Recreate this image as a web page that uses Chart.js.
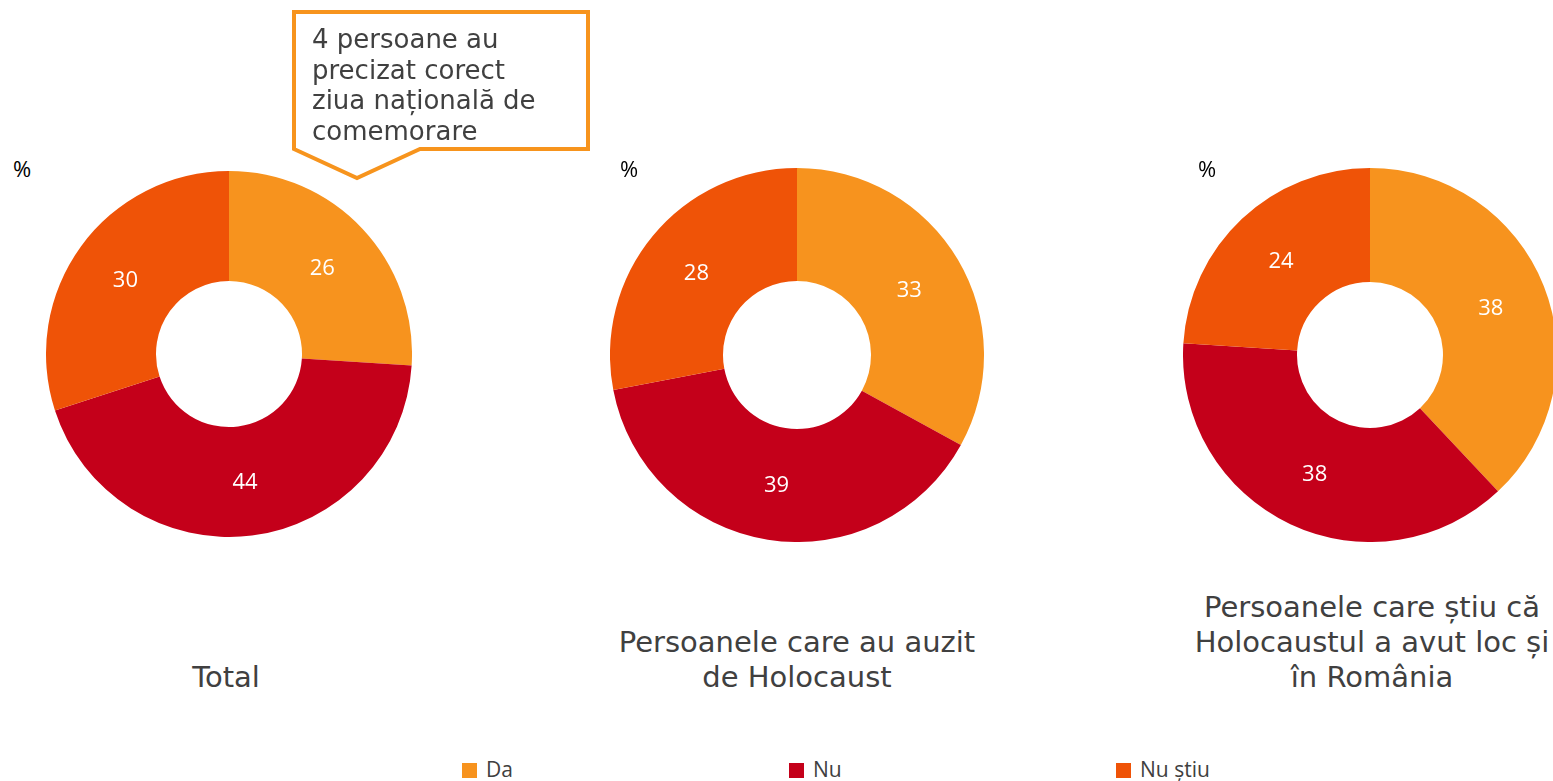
<!DOCTYPE html>
<html>
<head>
<meta charset="utf-8">
<script src="https://cdn.jsdelivr.net/npm/chart.js@4/dist/chart.umd.min.js"></script>
<style>
  html, body { margin: 0; padding: 0; background: #fff; width: 1553px; height: 781px; overflow: hidden; position: relative; }
  .cv { position: absolute; }
  .title { position: absolute; font-family: "DejaVu Sans", Verdana, sans-serif; font-size: 29px; line-height: 35px; color: #404040; text-align: center; white-space: nowrap; width: 600px; }
  .pct { position: absolute; font-family: "Open Sans", sans-serif; font-size: 22px; color: #000; }
  .callout-text { position: absolute; left: 312px; top: 24px; font-family: "DejaVu Sans", Verdana, sans-serif; font-size: 26px; line-height: 30.7px; color: #404040; white-space: nowrap; }
  .legend { position: absolute; top: 757px; font-family: "Open Sans", sans-serif; font-size: 21px; color: #404040; line-height: 25px; white-space: nowrap; }
  .legend span.box { display: inline-block; width: 15px; height: 15px; margin-right: 9px; vertical-align: -1px; }
</style>
</head>
<body>
<script>
// ---- data ----
const categories = ["Da", "Nu", "Nu știu"];
const totalValues = [26, 44, 30];
const auzitValues = [33, 39, 28];
const romaniaValues = [38, 38, 24];
const chartTitles = [
  ["Total"],
  ["Persoanele care au auzit", "de Holocaust"],
  ["Persoanele care știu că", "Holocaustul a avut loc și", "în România"]
];
const calloutLines = ["4 persoane au", "precizat corect", "ziua națională de", "comemorare"];
const percentLabel = "%";
// ---- styles ----
const colors = ["#F7931E", "#C4001A", "#EF5307"];

const layouts = [
  { cx: 229, cy: 354, r: 183, inner: 73, titleX: 226, pctX: 13 },
  { cx: 797, cy: 355, r: 187, inner: 74, titleX: 797, pctX: 620 },
  { cx: 1370, cy: 355, r: 187, inner: 73, titleX: 1372, pctX: 1198 }
];
const seriesList = [totalValues, auzitValues, romaniaValues];

const valueLabels = {
  id: 'valueLabels',
  afterDatasetsDraw(chart) {
    const ctx = chart.ctx;
    const meta = chart.getDatasetMeta(0);
    const data = chart.data.datasets[0].data;
    ctx.save();
    ctx.fillStyle = '#ffffff';
    ctx.font = '22px "Open Sans", sans-serif';
    ctx.textAlign = 'center';
    ctx.textBaseline = 'middle';
    meta.data.forEach((arc, i) => {
      const p = arc.tooltipPosition();
      ctx.fillText(String(data[i]), p.x, p.y + 2);
    });
    ctx.restore();
  }
};

layouts.forEach((L, k) => {
  const c = document.createElement('canvas');
  c.className = 'cv';
  const size = L.r * 2;
  c.width = size; c.height = size;
  c.style.width = size + 'px'; c.style.height = size + 'px';
  c.style.left = (L.cx - L.r) + 'px';
  c.style.top = (L.cy - L.r) + 'px';
  document.body.appendChild(c);
  new Chart(c.getContext('2d'), {
    type: 'doughnut',
    data: {
      labels: categories,
      datasets: [{
        data: seriesList[k],
        backgroundColor: colors,
        borderWidth: 0,
        hoverOffset: 0
      }]
    },
    options: {
      responsive: false,
      animation: false,
      cutout: (L.inner / L.r * 100) + '%',
      layout: { padding: 0 },
      plugins: { legend: { display: false }, tooltip: { enabled: false } }
    },
    plugins: [valueLabels]
  });

  // title
  const t = document.createElement('div');
  t.className = 'title';
  const lines = chartTitles[k];
  t.innerHTML = lines.join('<br>');
  t.style.left = (L.titleX - 300) + 'px';
  t.style.top = (677 + 17.5 - lines.length * 35) + 'px';
  document.body.appendChild(t);

  // percent
  const p = document.createElement('div');
  p.className = 'pct';
  p.textContent = percentLabel;
  p.style.left = L.pctX + 'px';
  p.style.top = '153px';
  document.body.appendChild(p);
});

// callout
const svgNS = 'http://www.w3.org/2000/svg';
const svg = document.createElementNS(svgNS, 'svg');
svg.setAttribute('width', '1553'); svg.setAttribute('height', '200');
svg.style.position = 'absolute'; svg.style.left = '0'; svg.style.top = '0';
const poly = document.createElementNS(svgNS, 'polygon');
poly.setAttribute('points', '294,12 588,12 588,149 420,149 357,178 294,149');
poly.setAttribute('fill', '#ffffff');
poly.setAttribute('stroke', '#F7941D');
poly.setAttribute('stroke-width', '4');
poly.setAttribute('stroke-linejoin', 'miter');
svg.appendChild(poly);
document.body.appendChild(svg);
const ct = document.createElement('div');
ct.className = 'callout-text';
ct.innerHTML = calloutLines.join('<br>');
document.body.appendChild(ct);

// legend
const legendX = [462, 789, 1116];
categories.forEach((cat, i) => {
  const d = document.createElement('div');
  d.className = 'legend';
  d.style.left = legendX[i] + 'px';
  d.innerHTML = '<span class="box" style="background:' + colors[i] + '"></span>' + cat;
  document.body.appendChild(d);
});
</script>
</body>
</html>
